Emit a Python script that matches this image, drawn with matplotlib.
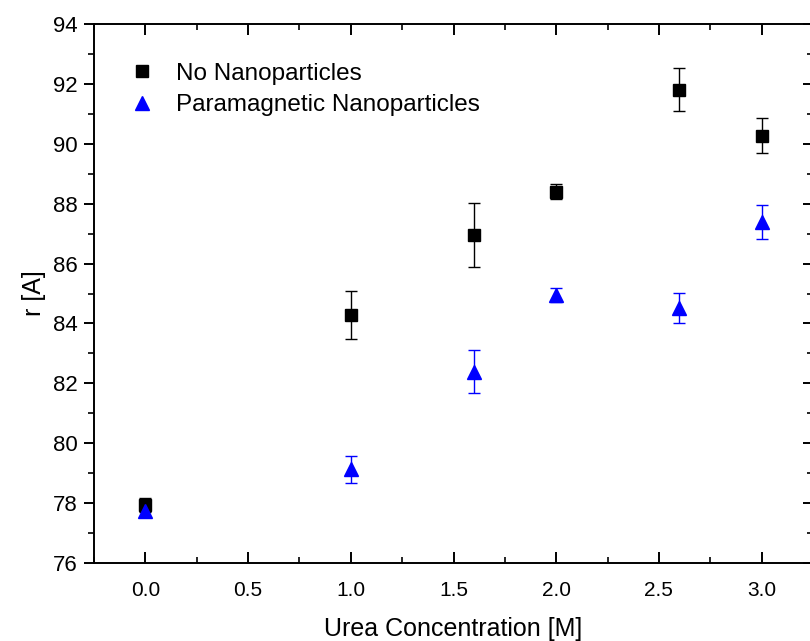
import matplotlib
matplotlib.use("Agg")
import matplotlib.pyplot as plt
from matplotlib.ticker import MultipleLocator
from matplotlib.lines import Line2D

urea = [0.0, 1.0, 1.6, 2.0, 2.6, 3.0]
r_none = [77.93, 84.28, 86.95, 88.40, 91.80, 90.27]
err_none = [0.23, 0.81, 1.08, 0.25, 0.72, 0.59]
r_para = [77.74, 79.13, 82.39, 84.95, 84.53, 87.38]
err_para = [0.22, 0.45, 0.72, 0.25, 0.50, 0.57]

label_none = "No Nanoparticles"
label_para = "Paramagnetic Nanoparticles"

plt.rcParams['font.family'] = ['Liberation Sans', 'DejaVu Sans']

fig = plt.figure(figsize=(8.1, 6.41), dpi=100)
ax = fig.add_axes([94/810, 78/641, 719/810, 539/641])

ax.errorbar(urea, r_none, yerr=err_none, fmt='s', color='black', ms=8.5,
            ecolor='black', elinewidth=1.0, capsize=4, capthick=1.0, zorder=3)
ax.errorbar(urea, r_para, yerr=err_para, fmt='^', color='#0000ff', ms=10.5,
            ecolor='#0000ff', elinewidth=1.0, capsize=4, capthick=1.0, zorder=3)

ax.set_xlim(-0.25, 3.25)
ax.set_ylim(76, 94)
ax.xaxis.set_major_locator(MultipleLocator(0.5))
ax.xaxis.set_minor_locator(MultipleLocator(0.25))
ax.yaxis.set_major_locator(MultipleLocator(2))
ax.yaxis.set_minor_locator(MultipleLocator(1))

for s in ax.spines.values():
    s.set_linewidth(1.4)

ax.tick_params(axis='x', which='both', direction='in', top=True, bottom=True)
ax.tick_params(axis='x', which='major', length=8, width=1.4, pad=13, labelsize=15)
ax.tick_params(axis='x', which='minor', length=4, width=1.2)
ax.tick_params(axis='y', which='both', direction='out', left=True, right=False)
ax.tick_params(axis='y', which='major', length=7, width=1.4, pad=5, labelsize=16)
ax.tick_params(axis='y', which='minor', length=4, width=1.2)

sec = ax.secondary_yaxis('right')
sec.yaxis.set_major_locator(MultipleLocator(2))
sec.yaxis.set_minor_locator(MultipleLocator(1))
sec.tick_params(which='both', direction='in', labelright=False)
sec.tick_params(which='major', length=7, width=1.4)
sec.tick_params(which='minor', length=4, width=1.2)
sec.spines['right'].set_linewidth(1.4)

ax.set_xlabel("Urea Concentration [M]", fontsize=18, labelpad=12)
ax.set_ylabel("r [A]", fontsize=18, labelpad=5)

handles = [
    Line2D([], [], marker='s', color='black', linestyle='none', ms=8.5),
    Line2D([], [], marker='^', color='#0000ff', linestyle='none', ms=10.5),
]
ax.legend(handles, [label_none, label_para], loc='upper left',
          bbox_to_anchor=(0.03, 0.955), frameon=False,
          fontsize=17.5, handlelength=1.0, handletextpad=0.9,
          labelspacing=0.38, borderaxespad=0.2)

fig.savefig("out.png", dpi=100)
